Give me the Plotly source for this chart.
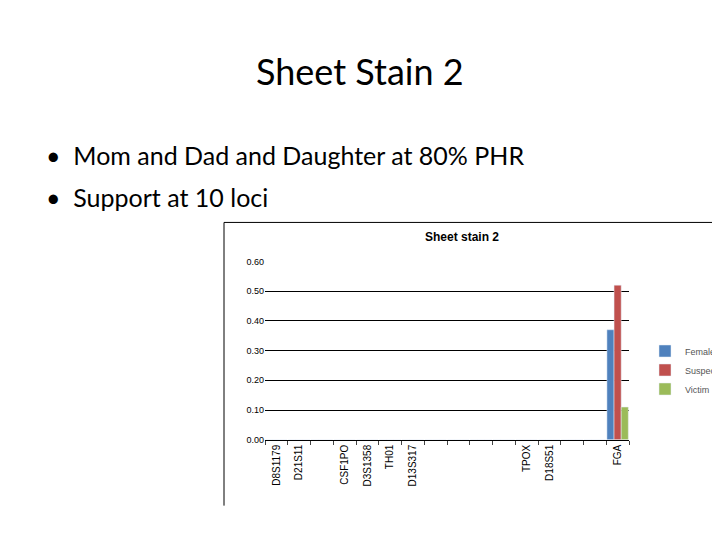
import plotly.graph_objects as go

categories = ["D8S1179", "D21S11", " ", "CSF1PO", "D3S1358", "TH01", "D13S317",
              "  ", "   ", "    ", "     ", "TPOX", "D18S51", "      ", "       ", "FGA"]
female = [0]*15 + [0.37]
suspect = [0]*15 + [0.52]
victim = [0]*15 + [0.11]

fig = go.Figure()
for name, vals, col in [("Female", female, "#4F81BD"), ("Suspect", suspect, "#C0504D"), ("Victim", victim, "#9BBB59")]:
    fig.add_bar(x=categories, y=vals, name=name, marker_color=col)

W, H = 720, 540
OFF = 8
def px(x): return (x - OFF) / W
def py(y): return 1 - (y - OFF) / H

fig.update_layout(
    width=W, height=H, margin=dict(l=0, r=0, t=0, b=0),
    paper_bgcolor="white", plot_bgcolor="white",
    barmode="group", bargap=0.06, bargroupgap=0,
    font=dict(family="Liberation Sans", color="black"),
    xaxis=dict(domain=[px(265), px(629)], tickangle=-90, showline=True, linecolor="black",
               ticks="outside", ticklen=4, tickfont=dict(size=10, family="Liberation Sans"),
               showgrid=False, tickson="boundaries", type="category"),
    yaxis=dict(domain=[py(443), py(261)], range=[0, 0.602], tickvals=[0, 0.1, 0.2, 0.3, 0.4, 0.5, 0.6],
               tickformat=".2f", gridcolor="black", gridwidth=1, zeroline=False,
               tickfont=dict(size=9), showline=False),
    legend=dict(x=px(645), y=py(338), xanchor="left", yanchor="top", font=dict(size=9, color="#555"),
                tracegroupgap=2, itemwidth=30),
    shapes=[
        dict(type="line", xref="paper", yref="paper", x0=px(224), x1=1, y0=py(222), y1=py(222),
             line=dict(color="black", width=1)),
        dict(type="line", xref="paper", yref="paper", x0=px(224), x1=px(224), y0=py(222), y1=py(510),
             line=dict(color="black", width=1)),
    ],
    annotations=[
        dict(text="Sheet Stain 2", x=px(360), y=py(68), xref="paper", yref="paper", showarrow=False,
             yanchor="middle", font=dict(family="Lato", size=36)),
        dict(text="•  Mom and Dad and Daughter at 80% PHR", x=px(44), y=py(153),
             xref="paper", yref="paper", xanchor="left", yanchor="middle", showarrow=False,
             font=dict(family="Lato", size=25)),
        dict(text="•  Support at 10 loci", x=px(44), y=py(196),
             xref="paper", yref="paper", xanchor="left", yanchor="middle", showarrow=False,
             font=dict(family="Lato", size=25)),
        dict(text="<b>Sheet stain 2</b>", x=px(462), y=py(237), xref="paper", yref="paper", showarrow=False,
             yanchor="middle", font=dict(size=12)),
    ],
)
fig.write_html("out.html")
